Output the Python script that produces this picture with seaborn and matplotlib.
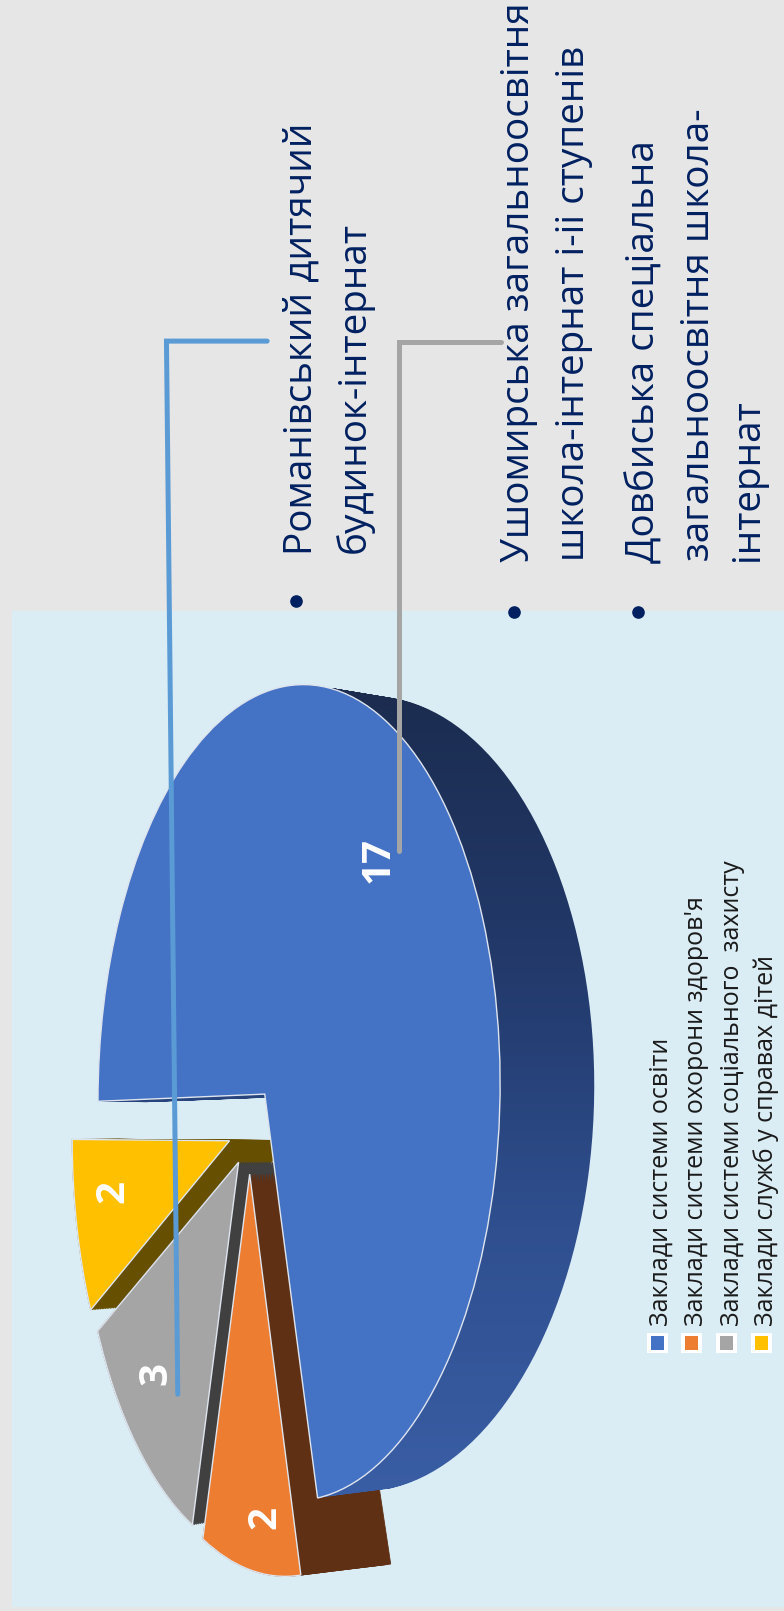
import matplotlib
matplotlib.use("Agg")
import matplotlib.pyplot as plt
import numpy as np
import seaborn as sns
from matplotlib.path import Path
from matplotlib.patches import PathPatch, Rectangle
from matplotlib.transforms import Transform

categories = [
    "Заклади системи освіти",
    "Заклади системи охорони здоров'я",
    "Заклади системи соціального  захисту",
    "Заклади служб у справах дітей",
]
values = [17, 2, 3, 2]
value_labels = ["17", "2", "3", "2"]
explode = [0.155, 0.08, 0.07, 0.095]
face_colors = ["#4472c4", "#ed7d31", "#a5a5a5", "#ffc000"]
side_colors = ["#2f4f8f", "#5f3014", "#404040", "#665000"]
bullet_lines = [
    ["Романівський дитячий", "будинок-інтернат"],
    ["Ушомирська загальноосвітня", "школа-інтернат і-ii ступенів"],
    ["Довбиська спеціальна", "загальноосвітня школа-", "інтернат"],
]

WIDTH, HEIGHT = 763, 1568
CX, CY = 240, 1115
SX, SY, K = 184, 385, 0.168
N_LAYERS = 30
# per slice wall depth and small placement fixes, in picture units
SIDE_DEPTH = [61, 80, 62, 62]
NUDGE_X = [0, 3, 0, 0]
NUDGE_Y = [-2, -3, -5, -14]


class PieView(Transform):
    """Tilted perspective view of a unit pie, gives picture coordinates."""

    input_dims = 2
    output_dims = 2

    def __init__(self, index, frac=0.0):
        super().__init__()
        self.index = index
        self.frac = frac

    def transform_non_affine(self, values):
        u, v = np.asarray(values, dtype=float).T
        w = 1 - K * u
        x = CX + NUDGE_X[self.index] + SX * u / w + SIDE_DEPTH[self.index] * self.frac / w**2
        y = CY + NUDGE_Y[self.index] - SY * v / (w + 0.025 * self.frac)
        return np.column_stack([x, y])


sns.set_theme(style="white")
plt.rcParams["font.family"] = ["Open Sans", "DejaVu Sans"]

fig = plt.figure(figsize=(7.84, 16.11), dpi=100, facecolor="#e6e6e6")
ax = fig.add_axes([0, 0, 1, 1])


def draw_pie(zorders, colors, frac, edge=None):
    wedges, _ = ax.pie(
        values,
        explode=explode,
        startangle=180,
        counterclock=False,
        colors=colors,
        wedgeprops={"linewidth": 1.0 if edge else 0.6},
    )
    for i, wedge in enumerate(wedges):
        wedge.set_transform(PieView(i, frac) + ax.transData)
        wedge.set_zorder(zorders[i])
        wedge.set_edgecolor(edge or colors[i])
    return wedges


# side walls, back slices first so that the front ones cover them
blue_paths = []
for frac in np.linspace(0, 1, N_LAYERS):
    wedges = draw_pie([7, 5, 3, 1], side_colors, frac)
    blue_paths.append(PieView(0, frac).transform_path(wedges[0].get_path()))
    wedges[0].set_visible(False)

# blue wall has a shading along the page
wall_cmap = sns.blend_palette(["#1b2c4f", "#22396a", "#2f4f8f", "#3a5ea5"], as_cmap=True)
wall = ax.imshow(
    np.linspace(0, 1, 256)[:, None],
    cmap=wall_cmap,
    extent=(0, WIDTH, 1460, 670),
    origin="upper",
    aspect="auto",
    zorder=7,
)
wall.set_clip_path(PathPatch(Path.make_compound_path(*blue_paths), transform=ax.transData))

draw_pie([8, 6, 4, 2], face_colors, 0.0, edge="#dfe5ee")

ax.add_patch(Rectangle((0, 0), WIDTH, HEIGHT, color="#e6e6e6", zorder=-2))
ax.add_patch(Rectangle((12, 595), WIDTH - 12, 968, color="#daecf4", zorder=-1))

# leader lines
ax.plot([260, 162, 173], [332, 332, 1357], color="#5b9bd5", lw=3.6, solid_joinstyle="miter", zorder=10)
ax.plot([488, 388, 388], [333, 333, 828], color="#a5a5a5", lw=3.6, solid_joinstyle="miter", zorder=10)

for label, x, y in zip(value_labels, [368, 258, 152, 110], [837, 1477, 1337, 1160]):
    ax.text(x, y, label, color="white", fontsize=29, fontweight="bold", rotation=90,
            ha="center", va="center", zorder=11)

# bulleted list
bullet_x = [288, 500, 621]
bullet_y = [585, 596, 596]
baselines = [[303, 355], [515, 568], [637, 690, 738]]
starts = [[540, 538], [547, 546], [548, 546, 546]]
ax.scatter(bullet_x, bullet_y, s=65, color="#002060", zorder=11)
for lines, xs, ys in zip(bullet_lines, baselines, starts):
    for line, x, y in zip(lines, xs, ys):
        ax.text(x, y, line, color="#002060", fontsize=27.9, rotation=90, rotation_mode="anchor",
                ha="left", va="baseline", zorder=11)

# legend
legend_x = [640, 673, 707, 741]
legend_base = [650, 684, 719, 752]
for name, color, x, base in zip(categories, face_colors, legend_x, legend_base):
    ax.add_patch(Rectangle((x - 10, 1297), 20, 20, facecolor="white", edgecolor="none", zorder=11))
    ax.add_patch(Rectangle((x - 6.5, 1300.5), 13, 13, facecolor=color, edgecolor="none", zorder=12))
    ax.text(base, 1291, name, color="#1a1a1a", fontsize=18, rotation=90, rotation_mode="anchor",
            ha="left", va="baseline", zorder=11)

ax.set_aspect("auto")
ax.set_xlim(0, WIDTH)
ax.set_ylim(HEIGHT, 0)
ax.axis("off")

fig.savefig("out.png", dpi=100, facecolor=fig.get_facecolor())
plt.close(fig)
